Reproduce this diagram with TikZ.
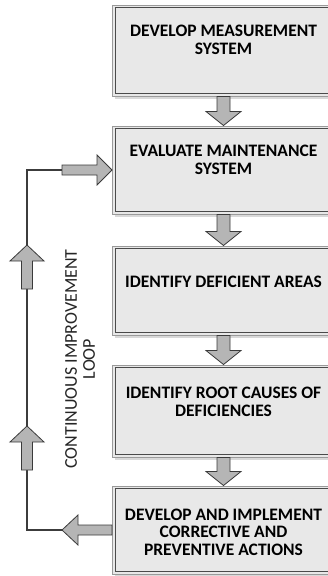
\documentclass[tikz,border=0pt]{standalone}
\usepackage{fontspec}
\setmainfont{Carlito}
\usetikzlibrary{calc,shadows}
\definecolor{boxfill}{HTML}{E8E8E8}
\definecolor{boxrim}{HTML}{9A9A9A}
\definecolor{boxline}{HTML}{4A4A4A}
\definecolor{arrowfill}{HTML}{B5B5B5}
\definecolor{arrowline}{HTML}{3A3A3A}
\definecolor{inkline}{HTML}{3C3C3C}

% block arrow pointing down from the bottom of #1 to the top of #2
\newcommand\flowdown[2]{%
  \draw[blockarrow] let \p1=(#1.south), \p2=(#2.north) in
    (\x1-6.5pt,\y1) -- (\x1+6.5pt,\y1) -- (\x1+6.5pt,\y2+14pt)
    -- (\x1+17.5pt,\y2+14pt) -- (\x1,\y2) -- (\x1-17.5pt,\y2+14pt)
    -- (\x1-6.5pt,\y2+14pt) -- cycle;}
% block arrow pointing up, tip at #1
\newcommand\flowup[1]{%
  \draw[blockarrow] let \p1=(#1) in
    (\p1) -- (\x1+17pt,\y1-16pt) -- (\x1+5.5pt,\y1-16pt) -- (\x1+5.5pt,\y1-44pt)
    -- (\x1-5.5pt,\y1-44pt) -- (\x1-5.5pt,\y1-16pt) -- (\x1-17pt,\y1-16pt) -- cycle;}

\begin{document}
\begin{tikzpicture}[x=1pt,y=-1pt,
  stage/.style={draw=boxrim, line width=1pt, fill=boxfill,
    minimum width=222pt, inner sep=0pt,
    drop shadow={shadow xshift=2pt, shadow yshift=-3pt, fill=black!15, opacity=1},
    path picture={\draw[boxline, line width=1pt]
      ([shift={(2.5pt,-2.5pt)}]path picture bounding box.north west) rectangle
      ([shift={(-2.5pt,2.5pt)}]path picture bounding box.south east);}},
  stagetext/.style={align=center, inner sep=0pt,
    font=\fontsize{17.5}{17.5}\selectfont\bfseries, text=black},
  blockarrow/.style={fill=arrowfill, draw=arrowline, line width=0.8pt, line join=miter},
  loopline/.style={draw=inkline, line width=1.3pt},
  looplabel/.style={align=center, inner sep=0pt,
    font=\fontsize{18}{18}\selectfont, text=black!85}]

\clip (0,0) rectangle (328,576);
\fill[white] (0,0) rectangle (328,576);

% process stages
\node[stage, minimum height=91pt] (b1) at (223.5,50.5) {};
\node[stage, minimum height=88pt] (b2) at (223.5,170) {};
\node[stage, minimum height=89pt] (b3) at (223.5,290.5) {};
\node[stage, minimum height=92pt] (b4) at (223.5,411) {};
\node[stage, minimum height=88pt] (b5) at (223.5,530) {};

\node[stagetext] (t1) at (223.5,40) {DEVELOP MEASUREMENT\\SYSTEM};
\node[stagetext] (t2) at (223.5,160) {EVALUATE MAINTENANCE\\SYSTEM};
\node[stagetext] (t3) at (223.5,282) {IDENTIFY DEFICIENT AREAS};
\node[stagetext] (t4) at (223.5,402) {IDENTIFY ROOT CAUSES OF\\DEFICIENCIES};
\node[stagetext] (t5) at (223.5,532) {DEVELOP AND IMPLEMENT\\CORRECTIVE AND\\PREVENTIVE ACTIONS};

% downward flow between stages
\flowdown{b1}{b2}
\flowdown{b2}{b3}
\flowdown{b3}{b4}
\flowdown{b4}{b5}

% feedback loop
\coordinate (inTail) at ($(b2.west)+(-50,0)$);
\coordinate (outTip) at ($(b5.west)+(-50,0)$);
\coordinate (cornerTop) at ($(inTail)+(-35,0)$);
\coordinate (cornerBot) at ($(outTip)+(-35,0)$);
\draw[loopline] (outTip) -- (cornerBot) -- (cornerTop) -- (inTail);

\draw[blockarrow] let \p1=(b5.west), \p2=(outTip) in
  (\x1,\y1+5pt) -- (\x2+16pt,\y1+5pt) -- (\x2+16pt,\y1+15pt) -- (\p2)
  -- (\x2+16pt,\y1-15pt) -- (\x2+16pt,\y1-5pt) -- (\x1,\y1-5pt) -- cycle;
\draw[blockarrow] let \p1=(inTail), \p2=(b2.west) in
  (\x1,\y1+5pt) -- (\x2-15pt,\y1+5pt) -- (\x2-15pt,\y1+15pt) -- (\p2)
  -- (\x2-15pt,\y1-15pt) -- (\x2-15pt,\y1-5pt) -- (\x1,\y1-5pt) -- cycle;

\coordinate (up1) at ($(cornerTop|-0,245)$);
\coordinate (up2) at ($(cornerTop|-0,426)$);
\flowup{up1}
\flowup{up2}

\node[looplabel, rotate=90] (loopText) at (80,359) {CONTINUOUS IMPROVEMENT\\LOOP};
\end{tikzpicture}
\end{document}
